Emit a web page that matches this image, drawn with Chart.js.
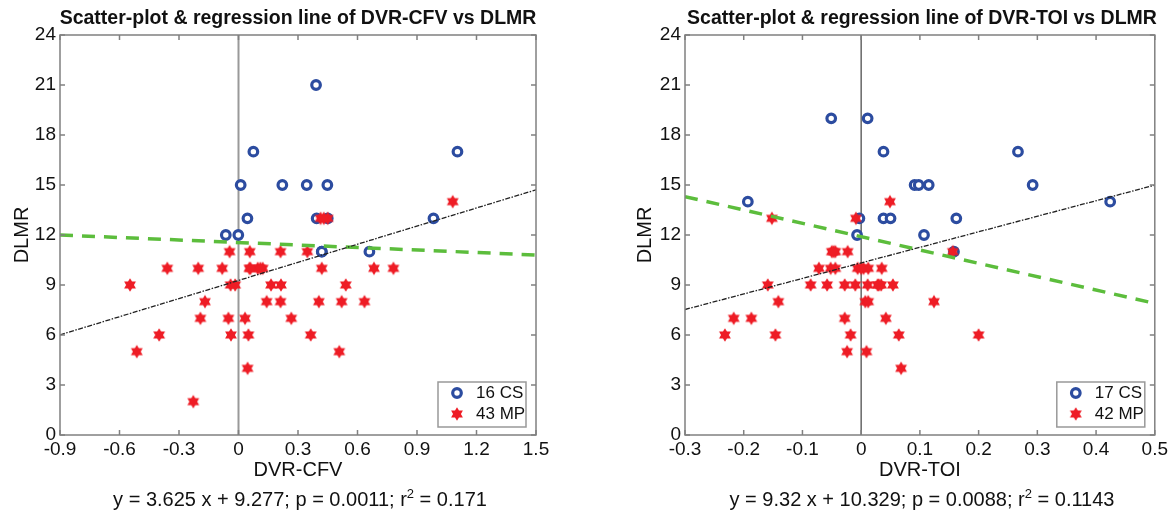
<!DOCTYPE html>
<html>
<head>
<meta charset="utf-8">
<script src="https://cdn.jsdelivr.net/npm/chart.js@4.4.0/dist/chart.umd.min.js"></script>
<style>
body { margin: 0; background: #fff; }
#wrap { position: relative; width: 1171px; height: 516px; overflow: hidden; font-family: "Liberation Sans", Arial, sans-serif; color: #111; }
.plot { position: absolute; top: 0; }
.ttl { position: absolute; top: 6px; font-weight: bold; font-size: 19.5px; white-space: nowrap; transform: translateX(-50%); }
.eq { position: absolute; top: 488px; font-size: 20px; white-space: nowrap; transform: translateX(-50%); }
.eq sup { font-size: 13px; vertical-align: 8px; line-height: 0; }
</style>
</head>
<body>
<div id="wrap">
  <div class="plot" style="left:0"><canvas id="cfv" width="585" height="490"></canvas></div>
  <div class="plot" style="left:585px"><canvas id="toi" width="586" height="490"></canvas></div>
  <div class="ttl" style="left:298px">Scatter-plot &amp; regression line of DVR-CFV vs DLMR</div>
  <div class="ttl" style="left:922px">Scatter-plot &amp; regression line of DVR-TOI vs DLMR</div>
  <div class="eq" style="left:300px">y = 3.625 x + 9.277; p = 0.0011; r<sup>2</sup> = 0.171</div>
  <div class="eq" style="left:922px">y = 9.32 x + 10.329; p = 0.0088; r<sup>2</sup> = 0.1143</div>
</div>
<script>
// tick labels
const yTicks = [0, 3, 6, 9, 12, 15, 18, 21, 24];
const cfvTicks = [-0.9, -0.6, -0.3, 0, 0.3, 0.6, 0.9, 1.2, 1.5];
const toiTicks = [-0.3, -0.2, -0.1, 0, 0.1, 0.2, 0.3, 0.4, 0.5];

// DVR-CFV panel
const cfvCsX = [0.075, 0.011, 0.221, 0.344, 0.448, 0.045, 0.394, 0.45, -0.064, -0.001, 0.391, 1.104, 0.983, 0.42, 0.66, 0.42];
const cfvCsY = [17, 15, 15, 15, 15, 13, 13, 13, 12, 12, 21, 17, 13, 11, 11, 11];
const cfvMpX = [-0.045, 0.057, 0.212, 0.347,
  -0.359, -0.203, -0.082, 0.055, 0.097, 0.122, 0.42, 0.683, 0.781,
  -0.547, -0.04, -0.017, 0.164, 0.214, 0.541,
  -0.169, 0.142, 0.212, 0.405, 0.52, 0.635,
  -0.192, -0.051, 0.033, 0.266,
  -0.4, -0.038, 0.05, 0.364,
  -0.513, 0.508, 0.046, -0.228,
  0.414, 0.45, 1.08, 0.06, 0.43, 0.11];
const cfvMpY = [11, 11, 11, 11,
  10, 10, 10, 10, 10, 10, 10, 10, 10,
  9, 9, 9, 9, 9, 9,
  8, 8, 8, 8, 8, 8,
  7, 7, 7, 7,
  6, 6, 6, 6,
  5, 5, 4, 2,
  13, 13, 14, 10, 13, 10];
const cfvFitX = [-0.9, 1.5];
const cfvFitY = [6.01, 14.71];
const cfvTrendY = [12.0, 10.8];

// DVR-TOI panel
const toiCsX = [-0.051, 0.011, 0.038, 0.267, -0.193, 0.424, 0.091, 0.098, 0.115, 0.292, -0.003, 0.038, 0.05, 0.162, -0.007, 0.107, 0.158];
const toiCsY = [19, 19, 17, 17, 14, 14, 15, 15, 15, 15, 13, 13, 13, 13, 12, 12, 11];
const toiMpX = [-0.152, -0.009, 0.049,
  -0.05, -0.044, -0.023, 0.156,
  -0.072, -0.052, -0.044, -0.006, 0.004, 0.012, 0.035,
  -0.159, -0.086, -0.058, -0.028, -0.01, 0.011, 0.028, 0.034, 0.054,
  -0.141, 0.007, 0.012, 0.124,
  -0.217, -0.187, -0.028, 0.042,
  -0.232, -0.146, -0.018, 0.064, 0.2,
  -0.024, 0.009, 0.068,
  -0.047, 0.0, 0.03];
const toiMpY = [13, 13, 14,
  11, 11, 11, 11,
  10, 10, 10, 10, 10, 10, 10,
  9, 9, 9, 9, 9, 9, 9, 9, 9,
  8, 8, 8, 8,
  7, 7, 7, 7,
  6, 6, 6, 6, 6,
  5, 5, 4,
  11, 10, 9];
const toiFitX = [-0.3, 0.5];
const toiFitY = [7.53, 14.99];
const toiTrendY = [14.3, 7.9];

const BLUE = '#2c4ca0';
const RED = '#ee1c25';
const GREEN = '#5cbd3c';
const FONT = '"Liberation Sans", Arial, sans-serif';

// matlab style hexagram marker
function hexStar(color, r) {
  const c = document.createElement('canvas');
  const s = Math.ceil(r * 2 + 2);
  c.width = s; c.height = s;
  const g = c.getContext('2d');
  g.fillStyle = color;
  g.beginPath();
  for (let i = 0; i < 12; i++) {
    const a = -Math.PI / 2 + i * Math.PI / 6;
    const rr = i % 2 ? r * 0.58 : r;
    const px = s / 2 + rr * Math.cos(a), py = s / 2 + rr * Math.sin(a);
    if (i) g.lineTo(px, py); else g.moveTo(px, py);
  }
  g.closePath();
  g.fill();
  return c;
}
const star = hexStar(RED, 6.8);

function pts(xs, ys) {
  return xs.map((v, i) => ({ x: v, y: ys[i] }));
}

// box, inward ticks, zero line and legend
const frame = {
  id: 'frame',
  beforeDatasetsDraw(chart, args, o) {
    const { ctx, chartArea: a, scales: { x } } = chart;
    const zx = x.getPixelForValue(0);
    ctx.save();
    ctx.strokeStyle = o.zeroColor;
    ctx.lineWidth = o.zeroWidth;
    ctx.beginPath();
    ctx.moveTo(zx, a.top);
    ctx.lineTo(zx, a.bottom);
    ctx.stroke();
    ctx.restore();
  },
  afterDraw(chart, args, o) {
    const { ctx, chartArea: a, scales: { x, y } } = chart;
    ctx.save();
    ctx.strokeStyle = '#808080';
    ctx.lineWidth = 1.5;
    ctx.strokeRect(a.left, a.top, a.right - a.left, a.bottom - a.top);
    ctx.beginPath();
    x.ticks.forEach(t => {
      const px = x.getPixelForValue(t.value);
      ctx.moveTo(px, a.bottom); ctx.lineTo(px, a.bottom - 5);
      ctx.moveTo(px, a.top); ctx.lineTo(px, a.top + 5);
    });
    y.ticks.forEach(t => {
      const py = y.getPixelForValue(t.value);
      ctx.moveTo(a.left, py); ctx.lineTo(a.left + 5, py);
      ctx.moveTo(a.right, py); ctx.lineTo(a.right - 5, py);
    });
    ctx.stroke();

    // legend box
    const bx = a.right - 98, by = a.bottom - 53;
    ctx.fillStyle = '#fff';
    ctx.fillRect(bx, by, 88, 45);
    ctx.strokeStyle = '#999';
    ctx.lineWidth = 1.5;
    ctx.strokeRect(bx, by, 88, 45);
    const mx = a.right - 79;
    ctx.beginPath();
    ctx.arc(mx, a.bottom - 42, 4.3, 0, Math.PI * 2);
    ctx.fillStyle = '#fff';
    ctx.fill();
    ctx.strokeStyle = BLUE;
    ctx.lineWidth = 3.2;
    ctx.stroke();
    ctx.drawImage(star, mx - star.width / 2, a.bottom - 21 - star.height / 2);
    ctx.fillStyle = '#111';
    ctx.font = '17px ' + FONT;
    ctx.textBaseline = 'middle';
    ctx.fillText(o.labels[0], a.right - 60, a.bottom - 42);
    ctx.fillText(o.labels[1], a.right - 60, a.bottom - 21);
    ctx.restore();
  }
};

function makeChart(id, p) {
  return new Chart(document.getElementById(id), {
    type: 'scatter',
    data: {
      datasets: [
        { type: 'line', data: pts(p.fitX, p.fitY), borderColor: '#222', borderWidth: 1.3,
          borderDash: [5, 1.5, 1.5, 1.5], pointRadius: 0, fill: false, order: 0 },
        { type: 'line', data: pts(p.fitX, p.trendY), borderColor: GREEN, borderWidth: 3.5,
          borderDash: [13, 9], pointRadius: 0, fill: false, order: 1 },
        { data: pts(p.mpX, p.mpY), pointStyle: star, pointRadius: 7, order: 2 },
        { data: pts(p.csX, p.csY), pointStyle: 'circle', pointRadius: 4.3, borderWidth: 3.2,
          borderColor: BLUE, backgroundColor: '#fff', order: 3 }
      ]
    },
    options: {
      responsive: false,
      animation: false,
      layout: { padding: p.pad },
      plugins: {
        legend: { display: false },
        tooltip: { enabled: false },
        frame: { zeroColor: p.zeroColor, zeroWidth: p.zeroWidth, labels: p.labels }
      },
      scales: {
        x: {
          type: 'linear', min: p.ticks[0], max: p.ticks[p.ticks.length - 1],
          afterBuildTicks: s => { s.ticks = p.ticks.map(v => ({ value: v })); },
          afterFit: s => { s.height = 55; },
          grid: { display: false, drawTicks: false },
          border: { display: false },
          ticks: { autoSkip: false, maxRotation: 0, padding: 3, color: '#111',
            font: { family: FONT, size: 19 },
            callback: v => String(Math.round(v * 10) / 10) },
          title: { display: true, text: p.xTitle, color: '#111',
            font: { family: FONT, size: 20 }, padding: { top: 0, bottom: 8 } }
        },
        y: {
          min: 0, max: 24,
          afterBuildTicks: s => { s.ticks = yTicks.map(v => ({ value: v })); },
          afterFit: s => { s.width = p.yWidth; },
          grid: { display: false, drawTicks: false },
          border: { display: false },
          ticks: { autoSkip: false, padding: 4, color: '#111', font: { family: FONT, size: 19 } },
          title: { display: true, text: 'DLMR', color: '#111',
            font: { family: FONT, size: 20 }, padding: { top: 10, bottom: 0 } }
        }
      }
    },
    plugins: [frame]
  });
}

makeChart('cfv', {
  csX: cfvCsX, csY: cfvCsY, mpX: cfvMpX, mpY: cfvMpY,
  fitX: cfvFitX, fitY: cfvFitY, trendY: cfvTrendY,
  ticks: cfvTicks, xTitle: 'DVR-CFV', labels: ['16 CS', '43 MP'],
  pad: { left: 0, right: 49, top: 35, bottom: 0 }, yWidth: 60,
  zeroColor: '#999', zeroWidth: 2
});
makeChart('toi', {
  csX: toiCsX, csY: toiCsY, mpX: toiMpX, mpY: toiMpY,
  fitX: toiFitX, fitY: toiFitY, trendY: toiTrendY,
  ticks: toiTicks, xTitle: 'DVR-TOI', labels: ['17 CS', '42 MP'],
  pad: { left: 38, right: 12, top: 35, bottom: 0 }, yWidth: 62,
  zeroColor: '#666', zeroWidth: 1.5
});
</script>
</body>
</html>
